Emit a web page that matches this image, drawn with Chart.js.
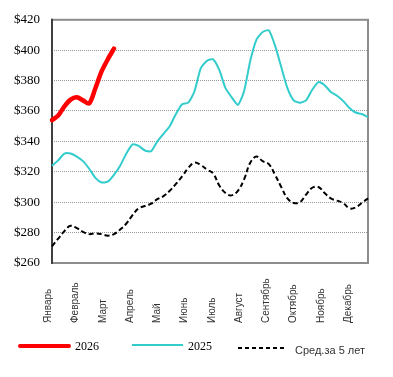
<!DOCTYPE html>
<html>
<head>
<meta charset="utf-8">
<script src="https://cdn.jsdelivr.net/npm/chart.js@4.4.1/dist/chart.umd.min.js"></script>
<style>
  html, body { margin: 0; padding: 0; background: #fff; }
  #wrap { position: relative; width: 393px; height: 377px; }
  canvas { display: block; }
  .key { position: absolute; }
  .txt { position: absolute; line-height: 1; white-space: nowrap; }
</style>
</head>
<body>
<div id="wrap">
  <canvas id="priceChart" width="393" height="377"></canvas>
  <div class="key" style="left:18px;top:344px;width:53px;height:4px;background:#ff0000;border-radius:2px;"></div>
  <div class="txt" style="left:75px;top:339px;font:12px 'Liberation Serif',serif;color:#000;">2026</div>
  <div class="key" style="left:132px;top:344px;width:51px;height:2px;background:#33cccc;"></div>
  <div class="txt" style="left:188px;top:339px;font:12px 'Liberation Serif',serif;color:#000;">2025</div>
  <div class="key" style="left:238px;top:347px;width:49px;height:2px;background:repeating-linear-gradient(90deg,#000 0 4px,transparent 4px 7px);"></div>
  <div class="txt" style="left:295px;top:344px;font:11px 'Liberation Sans',sans-serif;color:#333;">Сред.за 5 лет</div>
</div>
<script>
// weekly categories
const weeks = Array.from({ length: 52 }, (_, i) => i + 1);
const months = ['Январь', 'Февраль', 'Март', 'Апрель', 'Май', 'Июнь', 'Июль',
  'Август', 'Сентябрь', 'Октябрь', 'Ноябрь', 'Декабрь'];
const yTicks = [260, 280, 300, 320, 340, 360, 380, 400, 420];

const y2026 = [354, 357, 363, 367.5, 369, 367, 365, 375, 386, 394, 401];
const y2025 = [324, 327.5, 332, 332, 330, 327, 322, 316, 313, 313.5, 318, 324, 332,
  338, 337, 334, 333.5, 340, 345, 350, 358, 364.5, 365.5, 373, 388, 393, 394, 387,
  375, 369, 364, 373, 393, 407, 412, 413, 403, 389, 375, 367, 365.5, 367, 374, 379,
  377, 372.5, 370, 366.5, 362, 359, 358, 356];
const avg5 = [271, 276, 281, 284.5, 283, 280.5, 279, 279.5, 279, 278, 279, 282, 286,
  291.5, 296, 297.5, 299, 302, 304, 307.5, 312, 317, 322.5, 326, 324.5, 321.5, 319,
  311, 306, 304.5, 307.5, 315, 326, 330, 327, 325, 318, 310, 302.5, 299.5, 300, 305,
  309.5, 310, 306, 302.5, 301, 299.5, 296, 296.5, 299.5, 302.5];

// month label placement along the week axis
const monthStart = -0.6;
const monthStep = 4.4;

const framePlugin = {
  id: 'frame',
  beforeDatasetsDraw(chart) {
    const { ctx, chartArea: a } = chart;
    ctx.save();
    ctx.strokeStyle = '#8c8c8c';
    ctx.lineWidth = 2;
    ctx.strokeRect(a.left, a.top, a.right - a.left, a.bottom - a.top);
    ctx.strokeStyle = '#404040';
    ctx.beginPath();
    ctx.moveTo(a.left, a.top - 1);
    ctx.lineTo(a.left, a.bottom + 1);
    ctx.stroke();
    ctx.restore();
  },
  afterDraw(chart) {
    const { ctx, scales } = chart;
    ctx.save();
    ctx.fillStyle = '#333';
    ctx.font = '10px "Liberation Sans", sans-serif';
    ctx.textAlign = 'left';
    ctx.textBaseline = 'middle';
    months.forEach((m, i) => {
      const x = scales.x.getPixelForValue(monthStart + i * monthStep);
      ctx.save();
      ctx.translate(x, 323);
      ctx.rotate(-Math.PI / 2);
      ctx.fillText(m, 0, 0);
      ctx.restore();
    });
    ctx.restore();
  }
};

new Chart(document.getElementById('priceChart'), {
  type: 'line',
  data: {
    labels: weeks,
    datasets: [
      { label: '2026', data: y2026, borderColor: '#ff0000', borderWidth: 4.5,
        tension: 0.3, pointRadius: 0, borderCapStyle: 'round' },
      { label: '2025', data: y2025, borderColor: '#33cccc', borderWidth: 2,
        tension: 0.2, pointRadius: 0 },
      { label: 'Сред.за 5 лет', data: avg5, borderColor: '#000', borderWidth: 2,
        borderDash: [5, 3], tension: 0.4, pointRadius: 0 }
    ]
  },
  options: {
    responsive: false,
    animation: false,
    layout: { padding: { top: 17, right: 25, bottom: 114, left: 0 } },
    plugins: { legend: { display: false }, tooltip: { enabled: false } },
    scales: {
      x: {
        display: false
      },
      y: {
        min: yTicks[0],
        max: yTicks[yTicks.length - 1],
        afterFit(scale) { scale.width = 52; },
        afterBuildTicks(scale) { scale.ticks = yTicks.map(v => ({ value: v })); },
        ticks: {
          padding: 12,
          color: '#000',
          font: { family: 'Liberation Serif', size: 13 },
          callback: v => '$' + v
        },
        grid: { color: '#9a9a9a', lineWidth: 1, drawTicks: false },
        border: { display: false, dash: [1, 1] }
      }
    }
  },
  plugins: [framePlugin]
});
</script>
</body>
</html>
